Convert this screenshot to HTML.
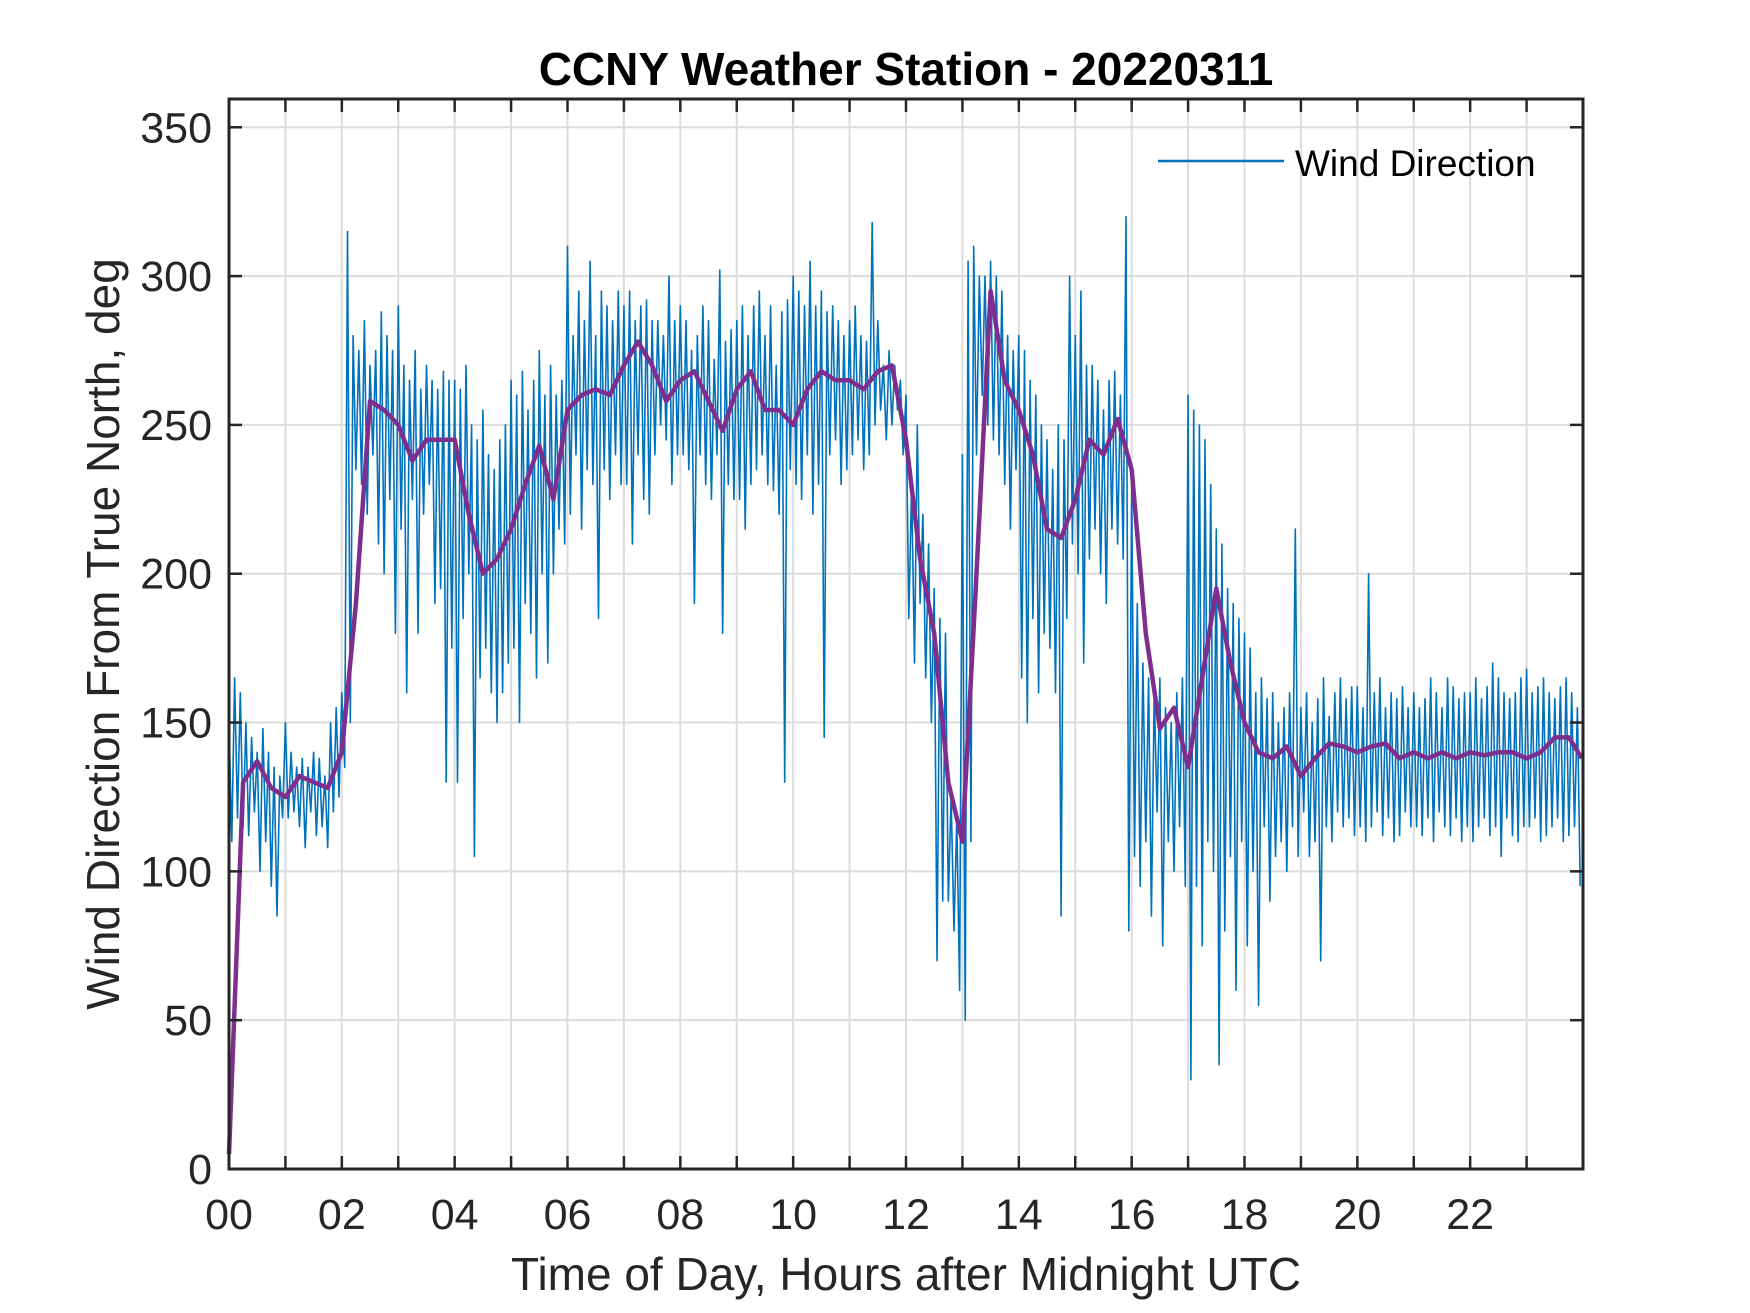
<!DOCTYPE html>
<html><head><meta charset="utf-8"><style>
html,body{margin:0;padding:0;background:#fff;}
svg{display:block;font-family:"Liberation Sans",Arial,sans-serif;}
</style></head><body>
<svg id="chart" width="1750" height="1313" viewBox="0 0 1750 1313">
<rect x="0" y="0" width="1750" height="1313" fill="#fff"/>
<g id="grid"></g>
<g id="series"></g>
<g id="axes"></g>
<text x="906" y="85" text-anchor="middle" font-size="46" font-weight="bold" fill="#000">CCNY Weather Station - 20220311</text>
<text x="906" y="1290" text-anchor="middle" font-size="46" fill="#262626">Time of Day, Hours after Midnight UTC</text>
<text transform="translate(119,634) rotate(-90)" text-anchor="middle" font-size="46" fill="#262626">Wind Direction From True North, deg</text>
<g>
<line x1="1158" y1="161" x2="1284" y2="161" stroke="#0072BD" stroke-width="2.5"/>
<text x="1295" y="176" font-size="37" fill="#000">Wind Direction</text>
</g>
</svg>
<script>
const xTicks=[0,2,4,6,8,10,12,14,16,18,20,22];
const xTickLabels=["00","02","04","06","08","10","12","14","16","18","20","22"];
const yTicks=[0,50,100,150,200,250,300,350];
const blueHi=[150,165,160,150,145,140,148,140,135,132,
150,140,135,138,135,140,138,132,150,155,
160,315,280,275,285,270,275,288,280,275,
290,270,265,275,262,270,265,262,268,265,
265,262,270,250,245,255,240,235,245,250,
265,260,268,255,265,275,260,270,260,265,
310,280,295,285,305,280,295,290,285,295,
290,295,285,290,292,285,285,280,300,285,
290,285,275,280,290,285,272,302,278,282,
285,290,280,290,295,280,290,270,288,292,
300,295,290,305,290,295,288,290,285,280,
285,290,280,278,318,285,270,275,270,265,
260,230,250,220,210,195,185,180,125,118,
240,305,310,300,300,305,300,295,280,275,
280,275,265,260,250,245,235,250,245,300,
280,295,270,270,265,255,265,268,260,320,
230,190,170,165,160,165,155,150,160,165,
260,255,250,245,230,215,210,195,190,185,
180,175,160,165,158,160,150,155,160,215,
155,160,150,158,165,152,160,165,158,162,
162,155,200,160,165,155,160,158,162,155,
160,155,158,165,160,155,165,162,158,160,
160,165,158,162,170,165,160,158,160,165,
168,160,162,165,160,158,162,165,160,155];
const blueLo=[110,118,115,112,120,100,110,95,85,118,
118,120,115,108,120,112,115,108,120,125,
135,150,235,230,220,240,210,200,225,180,
215,160,225,180,220,230,190,195,130,175,
130,185,200,105,165,175,160,150,160,170,
175,150,190,180,165,200,170,200,215,210,
220,240,215,235,230,185,235,225,240,230,
230,210,240,225,220,240,250,245,230,240,
240,235,190,240,230,225,240,180,230,225,
225,215,230,235,240,230,228,220,130,235,
230,225,240,220,230,145,240,245,230,235,
240,245,235,240,250,255,245,250,255,240,
185,170,190,165,150,70,90,90,80,60,
50,110,240,260,250,245,240,230,215,235,
165,150,185,160,180,175,160,85,185,210,
200,170,205,215,200,190,215,210,205,80,
105,95,110,85,120,75,110,100,115,95,
30,95,75,110,100,35,80,105,60,110,
75,100,55,115,90,105,110,100,115,105,
120,105,110,70,115,110,120,115,118,112,
115,110,115,120,112,118,110,112,120,115,
115,112,118,110,120,115,112,118,110,115,
110,115,118,112,115,105,118,112,110,115,
115,118,110,112,115,118,110,112,115,95];
const smooth=[5,130,137,128,125,132,130,128,140,190,258,255,250,238,245,245,245,220,200,205,215,230,243,225,255,260,262,260,270,278,270,258,265,268,258,248,262,268,255,255,250,262,268,265,265,262,268,270,245,205,180,130,110,200,295,265,255,240,215,212,225,245,240,252,235,180,148,155,135,165,195,170,150,140,138,142,132,138,143,142,140,142,143,138,140,138,140,138,140,139,140,140,138,140,145,145,138];

const L=229,R=1583,T=99,B=1169,X0=0,X1=24,Y0=0,Y1=359.5;
const xs=v=>L+(v-X0)/(X1-X0)*(R-L);
const ys=v=>B-(v-Y0)/(Y1-Y0)*(B-T);
const NS="http://www.w3.org/2000/svg";
function mk(tag,attrs,parent){const e=document.createElementNS(NS,tag);for(const k in attrs)e.setAttribute(k,attrs[k]);parent.appendChild(e);return e;}
const grid=document.getElementById('grid'),series=document.getElementById('series'),axes=document.getElementById('axes');
for(let h=0;h<24;h++){
  const g=mk('line',{x1:xs(h),x2:xs(h),y1:T,y2:B,stroke:'#dcdcdc','stroke-width':2},grid);
  
  
  const t1=mk('line',{x1:xs(h),x2:xs(h),y1:B,y2:B-13,stroke:'#262626','stroke-width':2.5},axes);
  
  
  const t2=mk('line',{x1:xs(h),x2:xs(h),y1:T,y2:T+13,stroke:'#262626','stroke-width':2.5},axes);
  
  
}
xTicks.forEach((v,i)=>{
  const t=mk('text',{x:xs(v),y:B+60,'text-anchor':'middle','font-size':43,fill:'#262626'},axes);
  t.textContent=xTickLabels[i];
  
  
});
yTicks.forEach(v=>{
  if(v>0){const g=mk('line',{x1:L,x2:R,y1:ys(v),y2:ys(v),stroke:'#dcdcdc','stroke-width':2},grid);
  
  }
  const a=mk('line',{x1:L,x2:L+13,y1:ys(v),y2:ys(v),stroke:'#262626','stroke-width':2.5},axes);
  
  
  const b=mk('line',{x1:R,x2:R-13,y1:ys(v),y2:ys(v),stroke:'#262626','stroke-width':2.5},axes);
  
  
  const t=mk('text',{x:L-17,y:ys(v)+15,'text-anchor':'end','font-size':43,fill:'#262626'},axes);
  t.textContent=String(v);
  
  
});
let d='';
for(let i=0;i<blueHi.length;i++){
  const t=i*0.1;
  d+=(i?'L':'M')+xs(t).toFixed(1)+','+ys(blueHi[i]).toFixed(1)+'L'+xs(t+0.05).toFixed(1)+','+ys(blueLo[i]).toFixed(1);
}
const bl=mk('path',{d:d,fill:'none',stroke:'#0072BD','stroke-width':1.6,'stroke-linejoin':'round'},series);


let d2='';
smooth.forEach((v,i)=>{d2+=(i?'L':'M')+xs(Math.min(i*0.25,23.98)).toFixed(1)+','+ys(v).toFixed(1);});
const sl=mk('path',{d:d2,fill:'none',stroke:'#7E2F8E','stroke-width':4.5,'stroke-linejoin':'round'},series);


const box=mk('rect',{x:L,y:T,width:R-L,height:B-T,fill:'none',stroke:'#262626','stroke-width':3},axes);


</script>
</body></html>
